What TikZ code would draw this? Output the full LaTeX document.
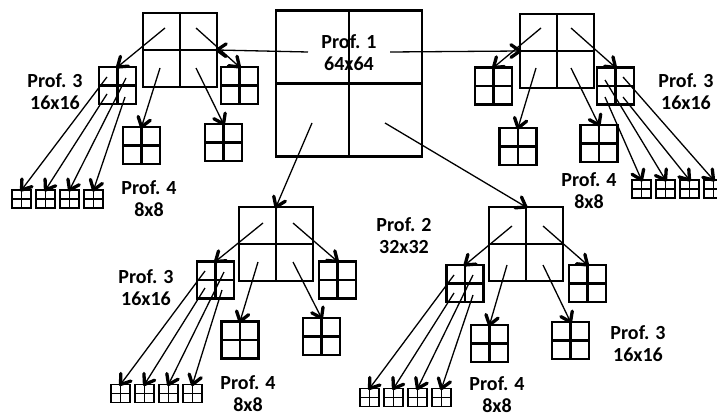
\documentclass[tikz,border=0pt]{standalone}
\usepackage{fontspec}
\setmainfont{Carlito}
\usetikzlibrary{calc}
\tikzset{
  quadbox/.style={draw, line width=2.2pt, inner sep=0pt, outer sep=0pt, minimum size=#1,
    path picture={\draw[line width=2.2pt] (path picture bounding box.north) -- (path picture bounding box.south)
      (path picture bounding box.west) -- (path picture bounding box.east);}},
  tinybox/.style={draw, line width=1.7pt, inner sep=0pt, outer sep=0pt, minimum width=19pt, minimum height=18pt,
    path picture={\draw[line width=1.7pt] (path picture bounding box.north) -- (path picture bounding box.south)
      (path picture bounding box.west) -- (path picture bounding box.east);}},
  arr/.style={line width=1.3pt},
  barb/.style={line width=3.3pt, line cap=round, line join=round},
  lbl/.style={font=\bfseries\fontsize{20}{22}\selectfont, align=center, inner sep=0pt},
}
\newcommand\myarrow[2]{%
  \draw[arr] (#1) -- (#2);
  \draw[barb] ($(#2)!11pt!35:(#1)$) -- (#2) -- ($(#2)!11pt!-35:(#1)$);%
}
\begin{document}
\begin{tikzpicture}[x=1pt,y=-1pt]
\useasboundingbox (0,0) rectangle (717,417);
% big square
\node[quadbox=146pt] (P1) at (349,83.5) {};
\node[lbl] (L1) at (349,53) {Prof. 1\\64x64};
% 32x32 quads
\node[quadbox=74pt] (TLq) at (180,50) {};
\node[quadbox=74pt] (TRq) at (557,51) {};
\node[quadbox=74pt] (BLq) at (276,244) {};
\node[quadbox=74pt] (BRq) at (526,244) {};
% 16x16
\node[quadbox=37pt] (A) at (117.5,85.5) {};
\node[quadbox=37pt] (B) at (239.5,85.5) {};
\node[quadbox=37pt] (C) at (141.5,145.5) {};
\node[quadbox=37pt] (D) at (223.5,142.5) {};
\node[quadbox=37pt] (E) at (493.5,86) {};
\node[quadbox=37pt] (F) at (615.5,86) {};
\node[quadbox=37pt] (G) at (518,146.5) {};
\node[quadbox=37pt] (H) at (599,143.5) {};
\node[quadbox=37pt] (I) at (215.5,280) {};
\node[quadbox=37pt] (J) at (337.5,280) {};
\node[quadbox=37pt] (K) at (240,340) {};
\node[quadbox=37pt] (L) at (321.5,336.5) {};
\node[quadbox=37pt] (M) at (465,283.5) {};
\node[quadbox=37pt] (N) at (587.5,283.5) {};
\node[quadbox=37pt] (O) at (489.5,343.5) {};
\node[quadbox=37pt] (P) at (570.5,340.5) {};
% 8x8 tiny
\foreach \i/\x in {1/21.5,2/45.5,3/69.5,4/93.5} \node[tinybox] (a\i) at (\x,199) {};
\foreach \i/\x in {1/641.5,2/665.5,3/689.5,4/713.5} \node[tinybox] (f\i) at (\x,189) {};
\foreach \i/\x in {1/120.5,2/144.5,3/168.5,4/192.5} \node[tinybox] (i\i) at (\x,393.5) {};
\foreach \i/\x in {1/369.5,2/393.5,3/417.5,4/441.5} \node[tinybox] (m\i) at (\x,397.5) {};
% start coordinates
\coordinate (s1) at (308,52);
\coordinate (s2) at (390,52);
\coordinate (s3) at (312,123);
\coordinate (s4) at (385,123);
\coordinate (tl1) at (165,28); \coordinate (tl2) at (196,28); \coordinate (tl3) at (160,68); \coordinate (tl4) at (196,68);
\coordinate (tr1) at (541,28); \coordinate (tr2) at (571,28); \coordinate (tr3) at (536,68); \coordinate (tr4) at (571,68);
\coordinate (bl1) at (263,223); \coordinate (bl2) at (293,223); \coordinate (bl3) at (258,262); \coordinate (bl4) at (293,262);
\coordinate (br1) at (512,226); \coordinate (br2) at (543,226); \coordinate (br3) at (507,265); \coordinate (br4) at (543,265);
\coordinate (aa1) at (107,77); \coordinate (aa2) at (107,94); \coordinate (aa3) at (126,78); \coordinate (aa4) at (125,97);
\coordinate (ff1) at (605,97); \coordinate (ff2) at (605,80); \coordinate (ff3) at (623,97); \coordinate (ff4) at (623,77);
\coordinate (ii1) at (205,271); \coordinate (ii2) at (205,288); \coordinate (ii3) at (224,272); \coordinate (ii4) at (222,290);
\coordinate (mm1) at (454,275); \coordinate (mm2) at (454,293); \coordinate (mm3) at (473,275); \coordinate (mm4) at (473,295);
% arrows from big square
\myarrow{s1}{TLq.east}
\myarrow{s2}{TRq.west}
\myarrow{s3}{BLq.north}
\myarrow{s4}{BRq.north}
% arrows from quads
\myarrow{tl1}{A.north} \myarrow{tl2}{B.north} \myarrow{tl3}{C.north} \myarrow{tl4}{D.north}
\myarrow{tr1}{E.north} \myarrow{tr2}{F.north} \myarrow{tr3}{G.north} \myarrow{tr4}{H.north}
\myarrow{bl1}{I.north} \myarrow{bl2}{J.north} \myarrow{bl3}{K.north} \myarrow{bl4}{L.north}
\myarrow{br1}{M.north} \myarrow{br2}{N.north} \myarrow{br3}{O.north} \myarrow{br4}{P.north}
% arrows to tiny
\foreach \i in {1,2,3,4} {
  \myarrow{aa\i}{a\i.north}
  \myarrow{ff\i}{f\i.north}
  \myarrow{ii\i}{i\i.north}
  \myarrow{mm\i}{m\i.north}
}
% labels
\node[lbl] (l3a) at (55,91.5) {Prof. 3\\16x16};
\node[lbl] (l4a) at (149,199) {Prof. 4\\8x8};
\node[lbl] (l3b) at (686,91.5) {Prof. 3\\16x16};
\node[lbl] (l4b) at (589,191) {Prof. 4\\8x8};
\node[lbl] (l2) at (404,235.5) {Prof. 2\\32x32};
\node[lbl] (l3c) at (146,287.5) {Prof. 3\\16x16};
\node[lbl] (l4c) at (248,394) {Prof. 4\\8x8};
\node[lbl] (l3d) at (638,343.5) {Prof. 3\\16x16};
\node[lbl] (l4d) at (497,395) {Prof. 4\\8x8};
\end{tikzpicture}
\end{document}
